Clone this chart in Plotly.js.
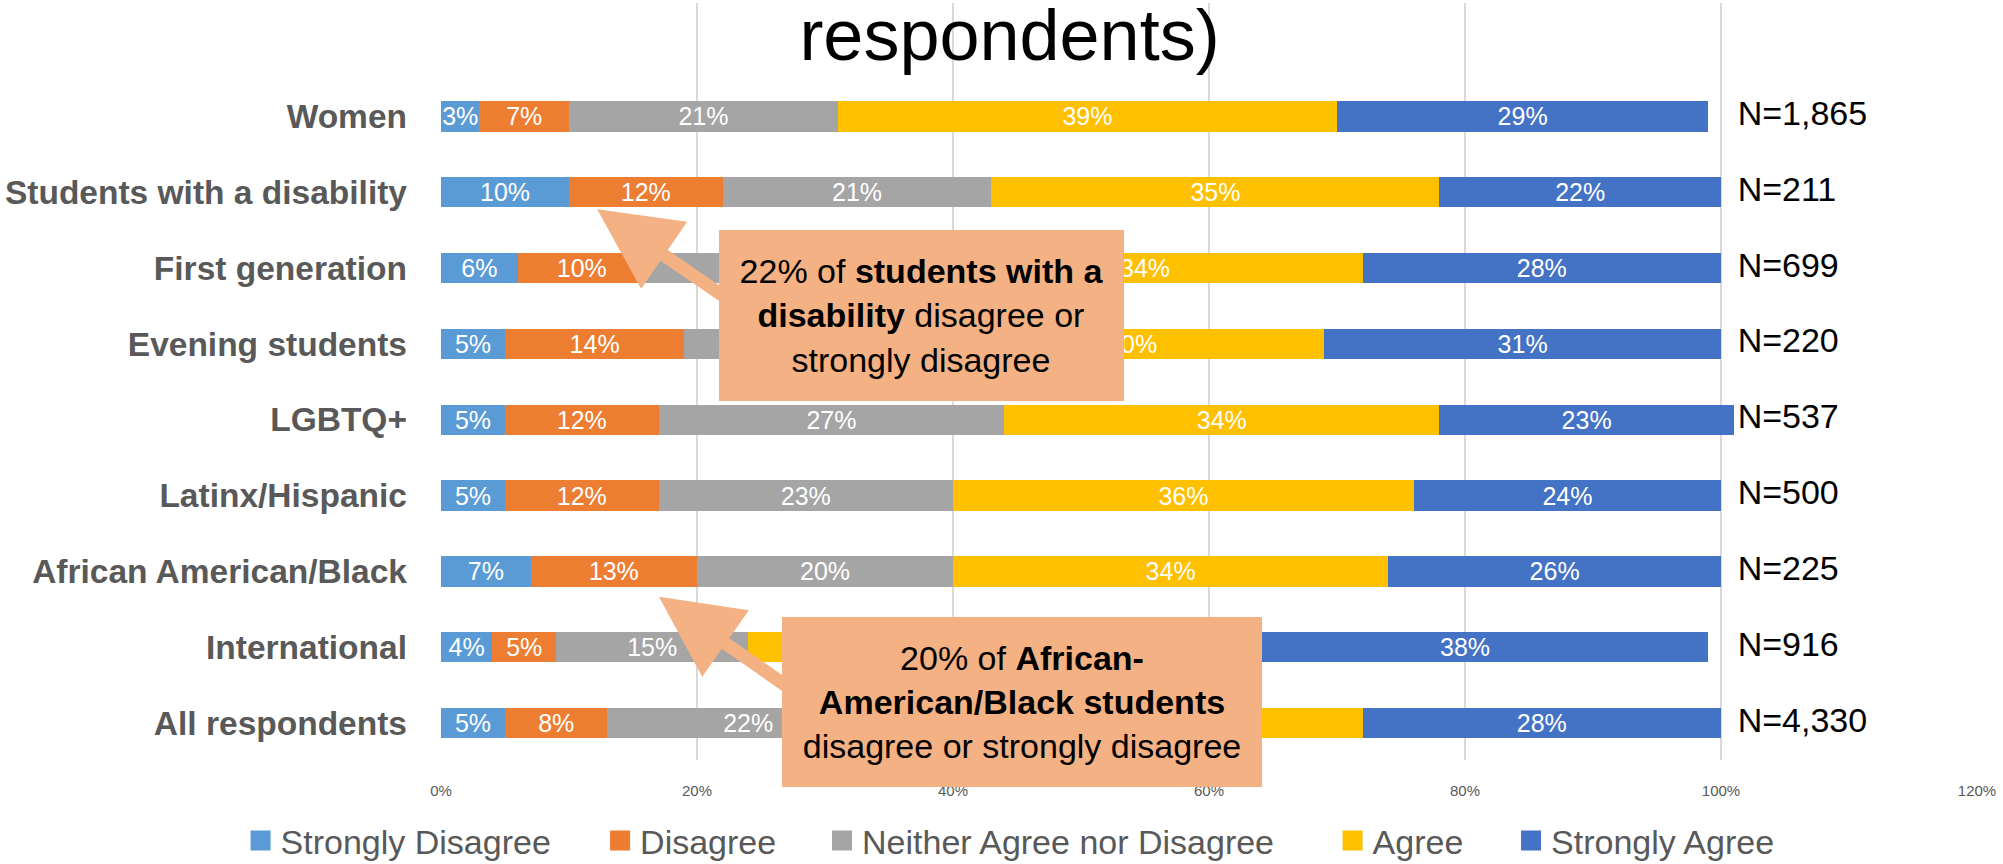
<!DOCTYPE html>
<html>
<head>
<meta charset="utf-8">
<script src="https://cdn.plot.ly/plotly-3.0.1.min.js"></script>
<style>html,body{margin:0;padding:0;background:#fff;}</style>
</head>
<body>
<div id="chart" style="width:2003px;height:864px;"></div>
<script>
// Categories, top to bottom
const categories = ["Women", "Students with a disability", "First generation", "Evening students",
  "LGBTQ+", "Latinx/Hispanic", "African American/Black", "International", "All respondents"];

// Series values (%)
const stronglyDisagree = [3, 10, 6, 5, 5, 5, 7, 4, 5];
const disagree         = [7, 12, 10, 14, 12, 12, 13, 5, 8];
const neither          = [21, 21, 22, 20, 27, 23, 20, 15, 22];
const agree            = [39, 35, 34, 30, 34, 36, 34, 37, 37];
const stronglyAgree    = [29, 22, 28, 31, 23, 24, 26, 38, 28];

const seriesNames = ["Strongly Disagree", "Disagree", "Neither Agree nor Disagree", "Agree", "Strongly Agree"];
const nLabels = ["N=1,865", "N=211", "N=699", "N=220", "N=537", "N=500", "N=225", "N=916", "N=4,330"];

const xTicks = [0, 20, 40, 60, 80, 100, 120];

// styling
const FONT = "Liberation Sans, Arial, sans-serif";
const colors = ["#5B9BD5", "#ED7D31", "#A5A5A5", "#FFC000", "#4472C4"];
const seriesValues = [stronglyDisagree, disagree, neither, agree, stronglyAgree];
const N_LABEL_X = 101.3;

const traces = seriesValues.map((vals, i) => ({
  type: "bar",
  orientation: "h",
  name: seriesNames[i],
  y: categories,
  x: vals,
  marker: { color: colors[i], line: { width: 0 } },
  text: vals.map(v => v + "%"),
  textposition: "inside",
  insidetextanchor: "middle",
  textangle: 0,
  constraintext: "none",
  textfont: { family: FONT, size: 25, color: "#FFFFFF" },
  showlegend: false,
  hoverinfo: "name+x"
}));

// legend-only entries (larger square swatches, like the reference)
seriesNames.forEach((name, i) => {
  traces.push({
    type: "scatter",
    mode: "markers",
    name: name,
    x: [null],
    y: [null],
    marker: { symbol: "square", size: 16, color: colors[i], line: { width: 4, color: colors[i] } },
    showlegend: true,
    legend: i === 0 ? "legend" : "legend" + (i + 1),
    hoverinfo: "skip"
  });
});

traces.push({
  type: "scatter",
  mode: "text",
  y: categories,
  x: categories.map(() => N_LABEL_X),
  text: nLabels,
  textposition: "middle right",
  textfont: { family: FONT, size: 34, color: "#000000" },
  showlegend: false,
  cliponaxis: false,
  hoverinfo: "skip"
});

const legendXs = [0.1201, 0.2996, 0.4104, 0.6653, 0.7544];
function legendCfg(x) {
  return {
    orientation: "h", xref: "container", yref: "container",
    x: x, xanchor: "left", y: 0.0266, yanchor: "middle",
    bgcolor: "rgba(0,0,0,0)", borderwidth: 0,
    font: { family: FONT, size: 34, color: "#595959" }
  };
}

const layout = {
  width: 2003, height: 864,
  paper_bgcolor: "#FFFFFF", plot_bgcolor: "#FFFFFF",
  margin: { l: 441, r: 26, t: 3, b: 104, pad: 0, autoexpand: false },
  font: { family: FONT },
  barmode: "stack",
  bargap: 0.6,
  title: {
    text: "respondents)",
    font: { family: FONT, size: 72, color: "#000000" },
    xref: "container", x: 0.504, xanchor: "center",
    yref: "container", y: 0.96, yanchor: "middle"
  },
  xaxis: {
    range: [0, 120], tickvals: xTicks, ticktext: xTicks.map(v => v + "%"),
    showgrid: true, gridcolor: "#D9D9D9", gridwidth: 1.3,
    zeroline: false, showline: false, ticks: "",
    tickfont: { family: FONT, size: 15, color: "#595959" },
    ticklabelstandoff: 20, fixedrange: true, automargin: false
  },
  yaxis: {
    type: "category", categoryorder: "array", categoryarray: categories.slice().reverse(),
    range: [-0.488, 9.497],
    showgrid: false, zeroline: false, showline: false, ticks: "",
    tickfont: { family: FONT, size: 33.5, color: "#595959", weight: "bold" },
    ticklabelstandoff: 33, fixedrange: true, automargin: false
  },
  legend: legendCfg(legendXs[0]),
  legend2: legendCfg(legendXs[1]),
  legend3: legendCfg(legendXs[2]),
  legend4: legendCfg(legendXs[3]),
  legend5: legendCfg(legendXs[4]),
  annotations: [
    { x: 12.2, y: 6.776, xref: "x", yref: "y", text: "", showarrow: true,
      ax: 160, ay: 110, arrowhead: 2, arrowsize: 1.25, arrowwidth: 13, arrowcolor: "#F4B183" },
    { x: 17.03, y: 1.664, xref: "x", yref: "y", text: "", showarrow: true,
      ax: 160, ay: 112, arrowhead: 2, arrowsize: 1.25, arrowwidth: 13, arrowcolor: "#F4B183" },
    { x: 37.54, y: 5.375, xref: "x", yref: "y", xanchor: "center", yanchor: "middle",
      text: "22% of <b>students with a</b><br><b>disability</b> disagree or<br>strongly disagree",
      showarrow: false, bgcolor: "#F4B183", width: 405, height: 171, borderpad: 0, borderwidth: 0,
      align: "center", valign: "middle", font: { family: FONT, size: 34, color: "#000000" } },
    { x: 45.39, y: 0.276, xref: "x", yref: "y", xanchor: "center", yanchor: "middle",
      text: "20% of <b>African-</b><br><b>American/Black students</b><br>disagree or strongly disagree",
      showarrow: false, bgcolor: "#F4B183", width: 480, height: 170, borderpad: 0, borderwidth: 0,
      align: "center", valign: "middle", font: { family: FONT, size: 34, color: "#000000" } }
  ]
};

Plotly.newPlot("chart", traces, layout, { displayModeBar: false, staticPlot: true });
</script>
</body>
</html>
